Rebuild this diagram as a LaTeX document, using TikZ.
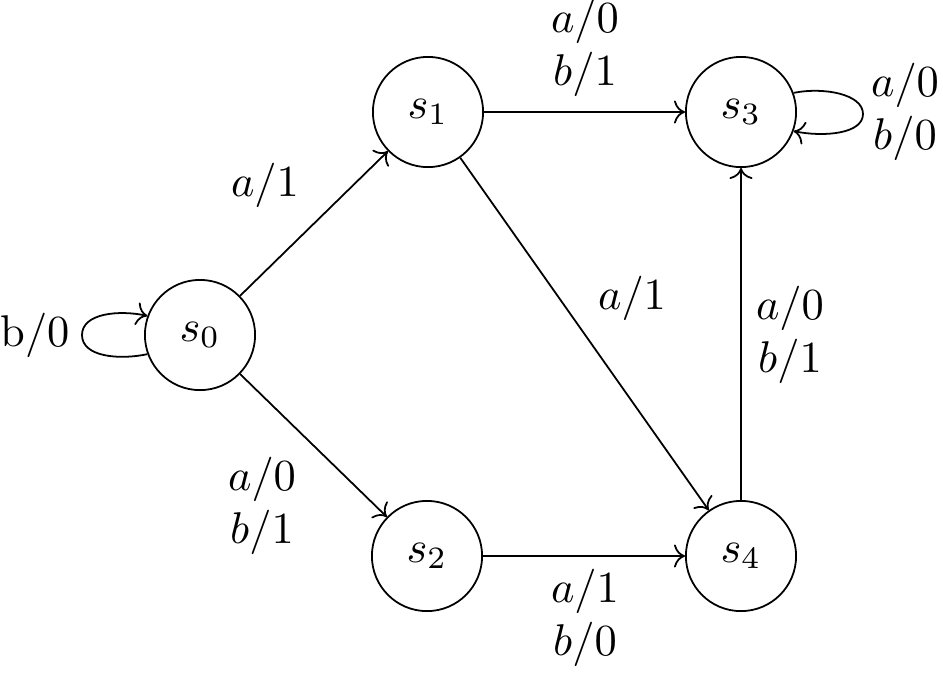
\documentclass[tikz,border=0pt]{standalone}
\usetikzlibrary{arrows.meta}
\begin{document}
\begin{tikzpicture}[x=0.225pt,y=-0.225pt,
  state/.style={draw,circle,minimum size=24.8pt,inner sep=0pt},
  lbl/.style={align=center,inner sep=0pt},
  every path/.style={line width=0.4pt}]
\useasboundingbox (0,0) rectangle (943,674);
\node[state] (s0) at (200,335) {$s_0$};
\node[state] (s1) at (428,112) {$s_1$};
\node[state] (s2) at (427,556) {$s_2$};
\node[state] (s3) at (741,112) {$s_3$};
\node[state] (s4) at (741,556) {$s_4$};
\coordinate (p0) at (82,335);
\coordinate (p3) at (863,114);
\draw[->] (s0) -- (s1);
\draw[->] (s0) -- (s2);
\draw[->] (s1) -- (s3);
\draw[->] (s1) -- (s4);
\draw[->] (s2) -- (s4);
\draw[->] (s4) -- (s3);
\draw[->] (s0.200) .. controls +(-28,6) and +(0,22) .. (p0)
  .. controls +(0,-22) and +(-28,-6) .. (s0.160);
\draw[->] (s3.20) .. controls +(30,-6) and +(0,-20) .. (p3)
  .. controls +(0,20) and +(30,6) .. (s3.-20);
\node[lbl] (l01) at (265,185) {$a/1$};
\node[lbl] (l02) at (262,506) {$a/0$\\$b/1$};
\node[lbl] (l13) at (585,48) {$a/0$\\$b/1$};
\node[lbl] (l14) at (632,298) {$a/1$};
\node[lbl] (l24) at (585,618) {$a/1$\\$b/0$};
\node[lbl] (l43) at (790,335) {$a/0$\\$b/1$};
\node[lbl] (l33) at (905,112) {$a/0$\\$b/0$};
\node[lbl] (l00) at (35,335) {b/0};
\end{tikzpicture}
\end{document}
